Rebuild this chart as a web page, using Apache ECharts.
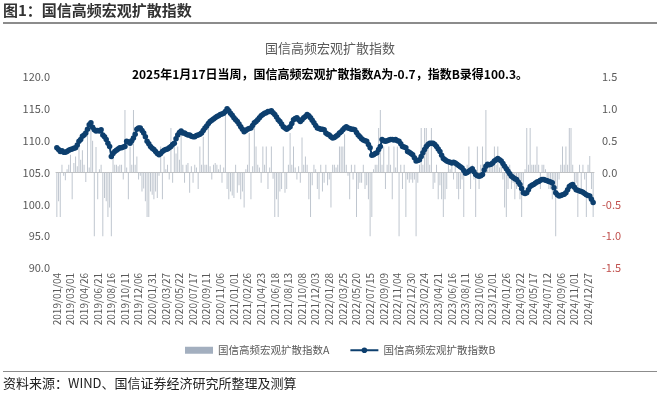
<!DOCTYPE html>
<html>
<head>
<meta charset="utf-8">
<script src="https://cdn.jsdelivr.net/npm/echarts@6/dist/echarts.min.js"></script>
<style>
  html, body { margin: 0; padding: 0; background: #fff; }
  #main { width: 660px; height: 398px; }
</style>
</head>
<body>
<div id="main"></div>
<script>
// weekly dates, 2019/01/04 .. 2025/01/17
const startDate = "2019-01-04";
const weekCount = 316;

// 国信高频宏观扩散指数A (right axis)
const indexA = [
  -0.70, -0.45, -0.70, 0.12, -0.05, -0.12, 0.05, 0.12, 0.28, -0.42,
  0.15, 0.25, 0.10, 0.40, 0.20, 0.35, 0.12, -0.15, 0.60, 0.08,
  0.70, 0.50, -1.00, 0.40, -0.42, 0.05, 0.12, -1.00, -0.40, -0.45,
  -0.70, -0.55, -1.00, 0.25, 0.12, 0.12, 0.10, 0.12, 0.12, -0.11,
  0.98, 0.08, -0.42, 0.41, 0.12, 0.98, 0.12, 0.25, -0.11, -0.05,
  -0.30, -0.25, -0.45, -0.70, -0.70, -0.30, -0.35, -0.42, -0.30, -0.40,
  -0.05, 0.41, -0.42, 0.25, 0.05, 0.12, -0.11, 0.70, -0.16, 0.41,
  0.30, 0.41, 0.20, 0.65, 0.12, -0.16, 0.12, 0.15, -0.32, 0.10,
  -0.16, 0.12, 0.08, -0.26, 0.41, 0.12, 0.56, 0.12, 0.12, 0.70,
  0.10, -0.11, 0.12, 0.15, 0.12, 0.05, 0.12, -0.16, 0.08, 0.98,
  -0.26, -0.42, -0.30, -0.36, -0.40, 0.12, -0.32, -0.20, -0.42, -0.30,
  -0.55, 0.05, 0.12, 0.62, -0.42, 0.10, 0.70, 0.41, 0.12, 0.08,
  -0.16, 0.41, 0.12, 0.41, -0.26, 0.08, 0.41, -0.10, -0.70, -0.42,
  -0.70, -0.30, -0.26, 0.41, -0.32, -0.26, 0.12, 0.62, 0.12, 0.41,
  0.08, -0.11, 0.10, -0.16, 0.55, 0.12, 0.25, 0.12, -0.42, -0.70,
  -0.20, 0.12, 0.05, -0.26, -0.42, 0.12, -0.30, -0.16, 0.12, -0.20,
  -0.11, -0.55, 0.12, 0.12, 0.08, 0.12, 0.41, 0.41, 0.41, 0.60,
  0.12, -0.05, -0.42, 0.12, -0.11, 0.12, -0.70, -0.26, -0.16, -0.16,
  0.12, -0.26, -0.20, -0.42, -1.00, -0.70, 0.05, 0.12, 0.12, 0.70,
  0.98, 0.12, 0.41, -0.26, 0.12, 0.41, 0.12, -0.42, 0.41, 0.08,
  0.41, -1.00, 0.12, -0.26, 0.12, -0.70, -0.11, -0.16, -0.11, -0.16,
  -0.11, -1.00, -0.16, 0.12, 0.70, 0.12, 0.70, 0.70, 0.41, 0.12,
  0.70, -0.26, -0.16, 0.12, -0.42, -0.20, -0.42, -0.70, -0.42, -0.26,
  0.12, 0.05, 0.12, -0.11, 0.12, -0.26, -0.42, -0.26, -0.11, -0.70,
  0.05, 0.12, 0.41, -0.26, 0.12, -0.11, -0.70, 0.41, -0.26, 0.12,
  0.41, 0.12, 0.98, 0.12, 0.12, 0.12, 0.12, 0.41, 0.12, 0.41,
  0.08, 0.12, -0.11, -0.55, -0.70, -0.26, 0.12, -0.26, -0.16, -0.42,
  -0.26, -0.11, -0.42, -0.70, -0.26, 0.05, 0.70, 0.12, 0.70, 0.12,
  0.12, 0.12, 0.41, 0.12, -0.26, 0.12, 0.12, 0.05, -0.11, -0.26,
  -0.26, -0.42, -0.26, -1.00, -0.26, -0.11, 0.12, 0.41, 0.12, 0.41,
  0.12, 0.70, 0.70, 0.12, -0.26, -0.16, -0.70, 0.12, -0.26, 0.12,
  -0.11, -0.70, 0.12, 0.26, -0.26, -0.70
];

// 国信高频宏观扩散指数B (left axis)
const indexB = [
  108.9, 108.6, 108.3, 108.4, 108.2, 108.2, 108.3, 108.5, 108.6, 108.7,
  108.8, 108.9, 109.3, 109.9, 110.2, 110.7, 110.9, 111.2, 111.8, 112.5,
  112.8, 112.1, 111.7, 111.5, 111.6, 111.5, 111.7, 110.9, 110.6, 110.2,
  109.6, 109.1, 107.5, 108.0, 108.3, 108.5, 108.7, 108.9, 108.9, 109.0,
  109.1, 109.9, 109.8, 109.6, 110.0, 110.4, 111.0, 111.8, 112.0, 112.0,
  111.6, 111.2, 110.6, 109.9, 109.5, 109.1, 108.8, 108.6, 108.3, 108.0,
  107.8, 108.0, 108.3, 108.5, 108.6, 108.7, 108.9, 109.1, 109.4, 109.6,
  110.3, 110.9, 111.3, 111.5, 111.2, 111.2, 111.0, 110.9, 110.9, 110.7,
  110.6, 110.6, 110.8, 110.9, 111.0, 111.2, 111.6, 112.0, 112.3, 112.7,
  113.0, 113.2, 113.4, 113.6, 113.8, 113.9, 114.1, 114.2, 114.3, 114.6,
  115.0, 114.7, 114.3, 114.0, 113.6, 113.3, 113.0, 112.6, 112.2, 111.8,
  111.4, 111.6, 111.8, 111.9, 112.0, 112.4, 112.8, 113.0, 113.3, 113.6,
  113.9, 114.1, 114.3, 114.4, 114.6, 114.6, 114.7, 114.4, 114.1, 113.7,
  113.3, 113.0, 112.6, 112.2, 112.0, 111.8, 112.0, 112.2, 112.7, 113.3,
  113.5, 113.6, 113.3, 113.0, 113.3, 113.6, 113.8, 114.1, 113.9, 113.6,
  113.2, 112.8, 112.4, 112.0, 111.9, 111.8, 111.8, 111.7, 111.2, 111.0,
  110.9, 110.6, 110.4, 110.5, 110.7, 110.9, 111.2, 111.4, 111.7, 112.0,
  112.2, 112.0, 111.9, 111.8, 111.8, 111.7, 111.3, 110.9, 110.6, 110.3,
  110.1, 110.0, 109.9, 109.4, 108.9, 107.7, 107.8, 108.0, 108.1, 108.6,
  109.1, 110.2, 110.0, 109.9, 110.0, 110.1, 110.2, 110.2, 110.1, 110.2,
  110.0, 109.9, 109.5, 109.1, 109.0, 108.9, 108.3, 108.2, 108.0, 107.8,
  107.3, 106.8, 106.9, 107.0, 107.5, 108.1, 108.6, 109.1, 109.4, 109.6,
  109.6, 109.6, 109.4, 109.1, 108.7, 108.3, 107.7, 107.2, 107.0, 106.8,
  106.7, 106.6, 106.5, 106.6, 106.5, 106.3, 106.1, 105.9, 105.7, 105.3,
  104.9, 105.0, 105.2, 105.4, 105.6, 105.1, 104.7, 104.5, 104.4, 104.5,
  104.7, 105.4, 106.0, 106.3, 106.2, 106.3, 106.5, 106.8, 107.0, 107.2,
  107.0, 106.8, 106.4, 106.0, 105.6, 105.2, 104.8, 104.4, 104.2, 104.0,
  103.9, 103.5, 103.1, 102.5, 101.8, 101.7, 101.8, 102.3, 102.8, 103.0,
  103.1, 103.3, 103.5, 103.6, 103.8, 103.9, 103.9, 103.8, 103.7, 103.6,
  103.5, 103.4, 102.6, 101.8, 101.5, 101.3, 101.4, 101.5, 101.6, 101.8,
  102.3, 102.8, 103.0, 103.1, 102.7, 102.3, 102.2, 102.1, 102.0, 101.9,
  101.7, 101.5, 101.4, 101.3, 100.8, 100.3
];

const pad = (n) => (n < 10 ? "0" + n : "" + n);
const genDates = (start, n) => {
  const out = [];
  const d0 = new Date(start + "T00:00:00Z");
  for (let i = 0; i < n; i++) {
    const d = new Date(d0.getTime() + i * 7 * 86400000);
    out.push(d.getUTCFullYear() + "/" + pad(d.getUTCMonth() + 1) + "/" + pad(d.getUTCDate()));
  }
  return out;
};
const dates = genDates(startDate, weekCount);

const font = '"Noto Sans CJK SC", "Noto Sans", sans-serif';
const nameA = "国信高频宏观扩散指数A";
const nameB = "国信高频宏观扩散指数B";

var chartDom = document.getElementById("main");
var myChart = echarts.init(chartDom);
var option;

option = {
  animation: false,
  textStyle: { fontFamily: font },
  title: [
    {
      text: "国信高频宏观扩散指数",
      left: "center",
      top: 37,
      textStyle: { fontSize: 13, fontWeight: "normal", color: "#595959", fontFamily: font },
    },
    {
      text: "2025年1月17日当周，国信高频宏观扩散指数A为-0.7，指数B录得100.3。",
      left: "center",
      top: 63,
      textStyle: { fontSize: 12, fontWeight: "bold", color: "#000", fontFamily: font },
    },
  ],
  graphic: [
    {
      type: "text",
      left: 3,
      top: 3,
      style: { text: "图1：国信高频宏观扩散指数", fontSize: 15, fontWeight: "bold", fill: "#333", fontFamily: font },
    },
    {
      type: "rect",
      left: 3,
      top: 22,
      shape: { width: 654, height: 2 },
      style: { fill: "#8c8c8c" },
    },
    {
      type: "rect",
      left: 3,
      top: 371,
      shape: { width: 654, height: 1 },
      style: { fill: "#8c8c8c" },
    },
    {
      type: "text",
      left: 3,
      top: 377,
      style: { text: "资料来源：WIND、国信证券经济研究所整理及测算", fontSize: 13, fill: "#222", fontFamily: font },
    },
  ],
  legend: {
    top: 340,
    left: 180,
    itemGap: 20,
    itemWidth: 28,
    itemHeight: 7,
    textStyle: { fontSize: 10.5, color: "#595959", fontFamily: font },
    data: [
      { name: nameA, icon: "rect", itemStyle: { color: "#a3afbf" } },
      { name: nameB },
    ],
  },
  grid: { left: 56, right: 66, top: 77, bottom: 130 },
  xAxis: {
    type: "category",
    data: dates,
    boundaryGap: true,
    axisLine: { lineStyle: { color: "#bfbfbf" } },
    axisTick: { interval: 1, length: 3, lineStyle: { color: "#bfbfbf" } },
    axisLabel: {
      interval: 7,
      rotate: 90,
      fontSize: 10,
      color: "#595959",
      margin: 5,
      fontFamily: font,
    },
  },
  yAxis: [
    {
      type: "value",
      min: 90,
      max: 120,
      interval: 5,
      splitLine: { show: false },
      axisLine: { show: false },
      axisTick: { show: false },
      axisLabel: {
        fontSize: 11,
        color: "#595959",
        margin: 6,
        formatter: (v) => v.toFixed(1),
      },
    },
    {
      type: "value",
      min: -1.5,
      max: 1.5,
      interval: 0.5,
      splitLine: { show: false },
      axisLine: { show: false },
      axisTick: { show: false },
      axisLabel: {
        fontSize: 11,
        margin: 8,
        formatter: (v) => v.toFixed(1),
        color: (v) => (Number(v) < 0 ? "#c0504d" : "#595959"),
      },
    },
  ],
  series: [
    {
      name: nameA,
      type: "bar",
      yAxisIndex: 1,
      data: indexA,
      barWidth: 1,
      itemStyle: { color: "#bfc6cf" },
      z: 1,
    },
    {
      name: nameB,
      type: "line",
      yAxisIndex: 0,
      data: indexB,
      symbol: "circle",
      symbolSize: 5.5,
      showSymbol: true,
      showAllSymbol: true,
      lineStyle: { width: 2, color: "#0d3f6e" },
      itemStyle: { color: "#0d3f6e" },
      z: 3,
    },
  ],
};

option && myChart.setOption(option);
</script>
</body>
</html>
